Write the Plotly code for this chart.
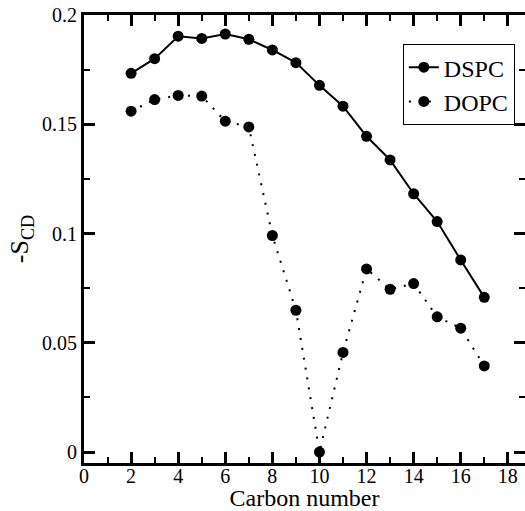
import plotly.graph_objects as go

carbon = [2, 3, 4, 5, 6, 7, 8, 9, 10, 11, 12, 13, 14, 15, 16, 17]
dspc = [0.1733, 0.1800, 0.1903, 0.1893, 0.1913, 0.1889, 0.1840, 0.1782,
        0.1678, 0.1583, 0.1445, 0.1337, 0.1182, 0.1055, 0.0879, 0.0708]
dopc = [0.1560, 0.1613, 0.1632, 0.1629, 0.1514, 0.1488, 0.0991, 0.0649,
        0.0000, 0.0456, 0.0838, 0.0745, 0.0771, 0.0619, 0.0567, 0.0394]

x_ticks = [0, 2, 4, 6, 8, 10, 12, 14, 16, 18]
y_ticks = [0, 0.05, 0.1, 0.15, 0.2]
y_tick_text = ["0", "0.05", "0.1", "0.15", "0.2"]

FONT = "Liberation Serif"

fig = go.Figure()
fig.add_trace(go.Scatter(
    x=carbon, y=dspc, name="DSPC", mode="lines+markers",
    line=dict(color="black", width=2),
    marker=dict(symbol="circle", size=11, color="black"),
))
fig.add_trace(go.Scatter(
    x=carbon, y=dopc, name="DOPC", mode="lines+markers",
    line=dict(color="black", width=2, dash="2px,8px"),
    marker=dict(symbol="circle", size=11, color="black"),
))
# invisible trace to carry right-side ticks
fig.add_trace(go.Scatter(x=[carbon[0]], y=[dspc[0]], yaxis="y2", mode="markers",
                         marker=dict(opacity=0), showlegend=False, hoverinfo="skip"))

fig.update_layout(
    width=525, height=511,
    margin=dict(l=84, r=0, t=15, b=48),
    paper_bgcolor="white", plot_bgcolor="white",
    font=dict(family=FONT, color="black", size=18),
    showlegend=True,
    legend=dict(
        x=0.977, y=0.935, xanchor="right", yanchor="top",
        bgcolor="white", bordercolor="black", borderwidth=1,
        font=dict(family=FONT, size=24, color="black"),
        itemwidth=30, tracegroupgap=0,
    ),
    xaxis=dict(
        range=[0, 18.73], automargin=False,
        tickvals=x_ticks,
        ticks="inside", ticklen=11, tickwidth=3, tickcolor="black",
        ticklabelstandoff=-7,
        showline=True, linewidth=3, linecolor="black", mirror="ticks",
        showgrid=False, zeroline=False,
        minor=dict(dtick=1, tick0=0, ticks="inside", ticklen=6, tickwidth=1.5,
                   tickcolor="black", showgrid=False),
        tickfont=dict(family=FONT, size=20),
        title=dict(text="Carbon number", font=dict(family=FONT, size=24), standoff=3),
    ),
    yaxis=dict(
        range=[-0.005, 0.2], automargin=False,
        tickvals=y_ticks, ticktext=y_tick_text,
        ticks="inside", ticklen=11, tickwidth=3, tickcolor="black",
        showline=True, linewidth=3, linecolor="black", mirror=False,
        showgrid=False, zeroline=False,
        minor=dict(dtick=0.025, tick0=0, ticks="inside", ticklen=6, tickwidth=1.5,
                   tickcolor="black", showgrid=False),
        tickfont=dict(family=FONT, size=20),
        title=dict(text="-S<sub>CD</sub>", font=dict(family=FONT, size=26), standoff=6),
    ),
    yaxis2=dict(
        overlaying="y", side="right", matches="y", automargin=False,
        tickvals=y_ticks, showticklabels=False,
        ticks="inside", ticklen=11, tickwidth=3, tickcolor="black",
        showline=False, showgrid=False, zeroline=False,
        minor=dict(dtick=0.025, tick0=0, ticks="inside", ticklen=6, tickwidth=1.5,
                   tickcolor="black", showgrid=False),
    ),
)

fig.write_html("out.html", config={"displayModeBar": False},
               post_script="document.body.style.margin='0';")
